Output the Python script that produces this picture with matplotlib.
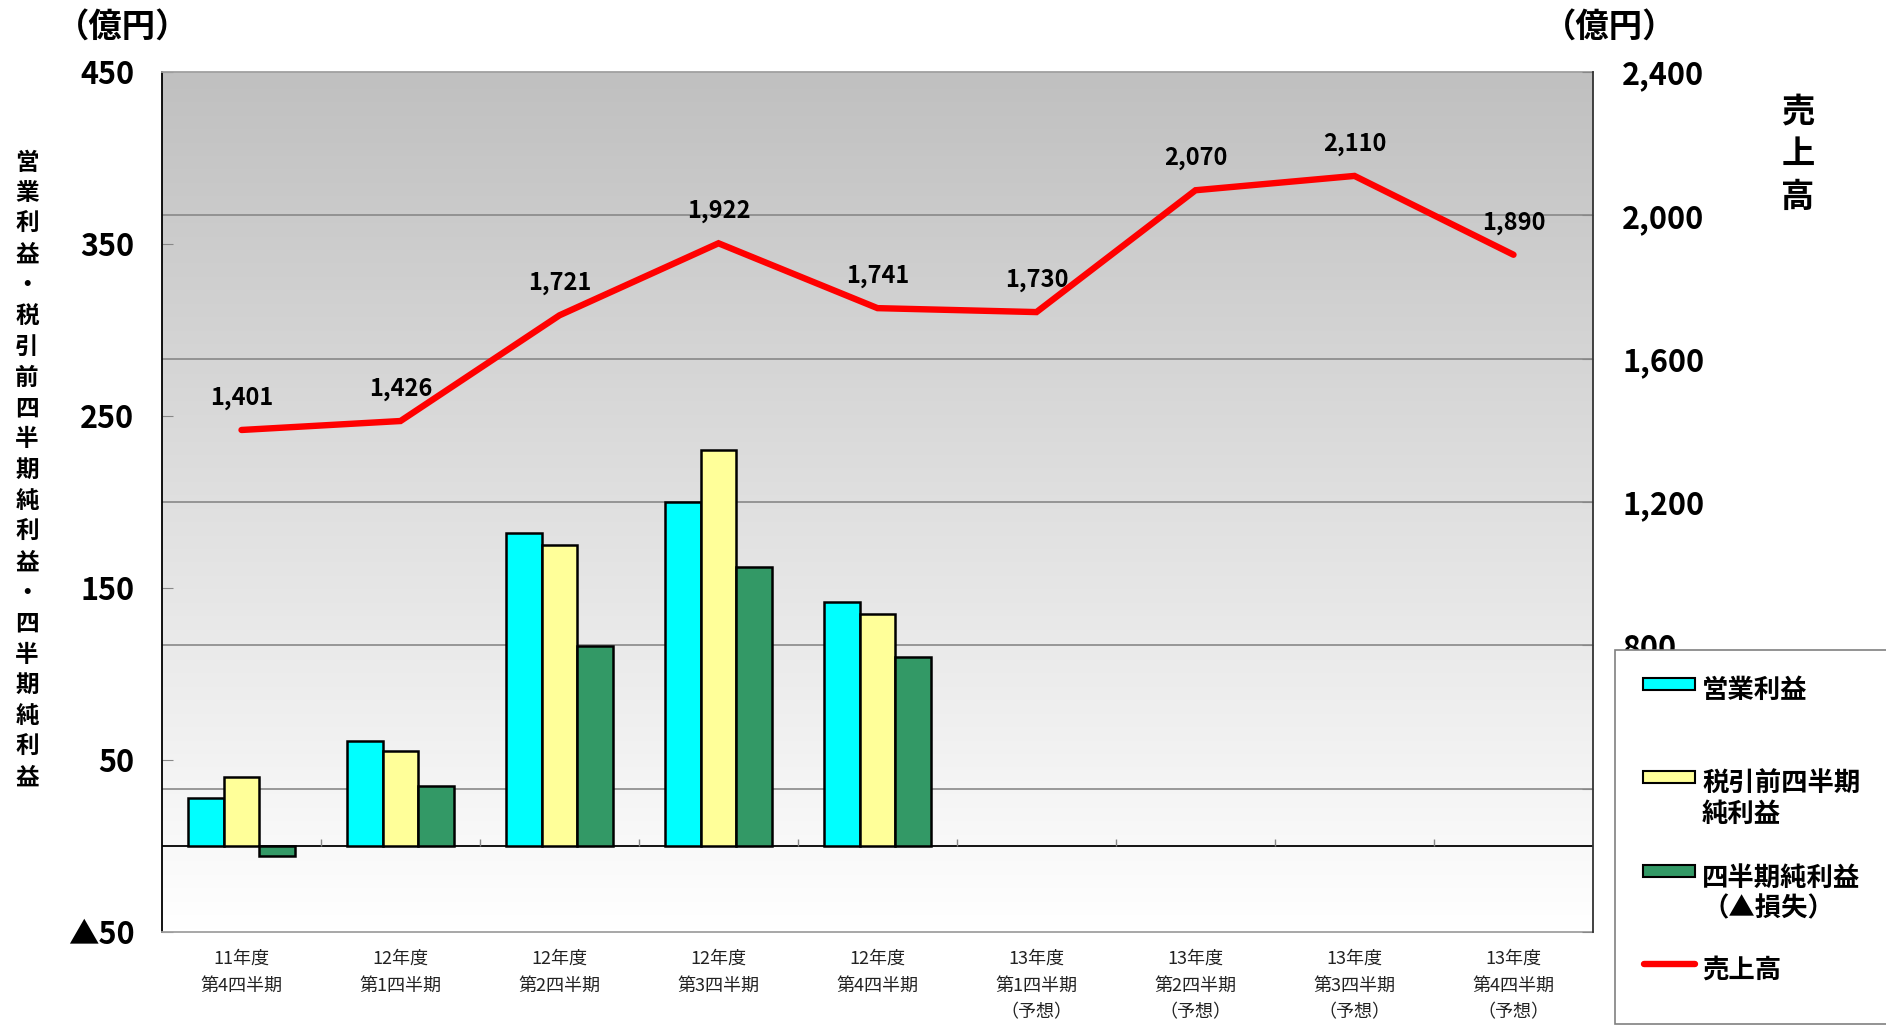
import numpy as np
import matplotlib
matplotlib.use("Agg")
import matplotlib.pyplot as plt
from matplotlib.patches import Rectangle
from matplotlib.lines import Line2D
from matplotlib.colors import LinearSegmentedColormap
from matplotlib.transforms import blended_transform_factory

plt.rcParams['font.family'] = ['Noto Sans CJK JP', 'DejaVu Sans']

# quarterly results (億円)
categories = [
    "11年度\n第4四半期", "12年度\n第1四半期", "12年度\n第2四半期",
    "12年度\n第3四半期", "12年度\n第4四半期",
    "13年度\n第1四半期\n（予想）", "13年度\n第2四半期\n（予想）",
    "13年度\n第3四半期\n（予想）", "13年度\n第4四半期\n（予想）",
]
operating_profit = [28, 61, 182, 200, 142]
pretax_profit = [40, 55, 175, 230, 135]
net_profit = [-6, 35, 116, 162, 110]
sales = [1401, 1426, 1721, 1922, 1741, 1730, 2070, 2110, 1890]

left_ticks = [-50, 50, 150, 250, 350, 450]
right_ticks = [0, 400, 800, 1200, 1600, 2000, 2400]

W, H = 1886, 1028


def fx(px):
    return px / W


def fy(py):
    return 1 - py / H


fig = plt.figure(figsize=(W / 100, H / 100), dpi=100)
ax = fig.add_axes([fx(162), fy(932), fx(1593 - 162), (932 - 72) / H])
ax2 = ax.twinx()

n = len(categories)
x = np.arange(n)
ax.set_xlim(-0.5, n - 0.5)
ax.set_ylim(left_ticks[0], left_ticks[-1])
ax2.set_ylim(right_ticks[0], right_ticks[-1])

# gray-to-white gradient background
cmap = LinearSegmentedColormap.from_list("bg", ["#c0c0c0", "#ffffff"])
ax.imshow(np.linspace(0, 1, 256).reshape(-1, 1), cmap=cmap, aspect='auto',
          extent=[-0.5, n - 0.5, left_ticks[0], left_ticks[-1]], zorder=0)

# gridlines follow the sales axis but sit behind the bars
grid_tr = blended_transform_factory(ax.transAxes, ax2.transData)
for v in right_ticks[1:-1]:
    ax.plot([0, 1], [v, v], transform=grid_tr, color='#888888', lw=1.2, zorder=1)

ax.axhline(0, color='black', lw=1.3, zorder=2)
ax.vlines(x[1:] - 0.5, 0, 4, color='#888888', lw=1, zorder=2)

w = 0.223
xb = np.arange(len(operating_profit))
bar_kw = dict(width=w, edgecolor='black', linewidth=1.8, zorder=3)
ax.bar(xb - w, operating_profit, color='#00ffff', **bar_kw)
ax.bar(xb, pretax_profit, color='#ffff99', **bar_kw)
ax.bar(xb + w, net_profit, color='#339966', **bar_kw)

ax2.plot(x, sales, color='#ff0000', lw=4.6, solid_capstyle='round',
         solid_joinstyle='miter', zorder=4)
for i, v in enumerate(sales):
    ax2.annotate(f"{v:,}", (i, v), xytext=(0, 23), textcoords='offset points',
                 ha='center', va='center', fontsize=17, fontweight='bold')

# axes styling
ax.set_xticks(x)
ax.set_xticklabels(categories, fontsize=13, color='#222222', linespacing=1.62)
ax.tick_params(axis='x', length=0, pad=13)
ax.set_yticks(left_ticks)
ax.set_yticklabels([("▲" + str(-t)) if t < 0 else str(t) for t in left_ticks],
                   fontsize=22, fontweight='bold')
ax.tick_params(axis='y', direction='in', length=8, color='#888888', pad=20)

ax2.set_yticks(right_ticks)
ax2.set_yticklabels([f"{t:,}" for t in right_ticks], fontsize=22, fontweight='bold')
ax2.tick_params(axis='y', direction='in', length=8, color='#888888', pad=21)

ax.spines['left'].set_color('black')
ax.spines['left'].set_linewidth(1.3)
for s in ('top', 'bottom'):
    ax.spines[s].set_color('#a0a0a0')
    ax.spines[s].set_linewidth(1.3)
ax.spines['right'].set_visible(False)
for s in ('top', 'bottom', 'left'):
    ax2.spines[s].set_visible(False)
ax2.spines['right'].set_color('#333333')
ax2.spines['right'].set_linewidth(1.3)

# unit captions
fig.text(fx(123), fy(27), "（億円）", ha='center', va='center', fontsize=24, fontweight='bold')
fig.text(fx(1610), fy(27), "（億円）", ha='center', va='center', fontsize=24, fontweight='bold')

# vertical axis titles, one character per row
left_title = "営業利益・税引前四半期純利益・四半期純利益"
for i, ch in enumerate(left_title):
    fig.text(fx(27), fy(162.5 + 30.75 * i), ch, ha='center', va='center',
             fontsize=17, fontweight='bold')
for i, ch in enumerate("売上高"):
    fig.text(fx(1798), fy(112 + 42.5 * i), ch, ha='center', va='center',
             fontsize=24, fontweight='bold')

# legend box
fig.add_artist(Rectangle((fx(1615), fy(1024)), fx(300), (1024 - 650) / H,
                         transform=fig.transFigure, facecolor='white',
                         edgecolor='#808080', lw=1.2, zorder=5))
legend_items = [
    ('#00ffff', 684, ["営業利益"], 690),
    ('#ffff99', 777, ["税引前四半期", "純利益"], 783),
    ('#339966', 871, ["四半期純利益", "（▲損失）"], 878),
]
for color, py, lines, ty in legend_items:
    fig.add_artist(Rectangle((fx(1643), fy(py + 6)), fx(52), 12 / H,
                             transform=fig.transFigure, facecolor=color,
                             edgecolor='black', lw=1.5, zorder=6))
    for j, t in enumerate(lines):
        fig.text(fx(1702), fy(ty + 31 * j), t, ha='left', va='center',
                 fontsize=19, fontweight='bold', zorder=6)
fig.add_artist(Line2D([fx(1644), fx(1695)], [fy(964), fy(964)],
                      transform=fig.transFigure, color='#ff0000', lw=4.6,
                      solid_capstyle='round', zorder=6))
fig.text(fx(1702), fy(970), "売上高", ha='left', va='center',
         fontsize=19, fontweight='bold', zorder=6)

fig.savefig("out.png", dpi=100)
